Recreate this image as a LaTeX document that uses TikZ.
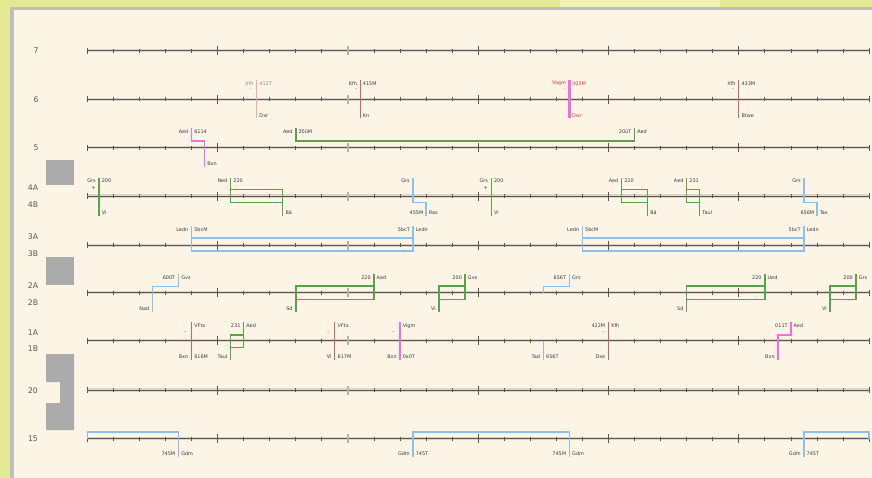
\documentclass[tikz,border=0pt]{standalone}
\usepackage{fontspec}
\setmainfont{DejaVu Sans}
\definecolor{outer}{HTML}{E3EA92}
\definecolor{outerl}{HTML}{EEF2B4}
\definecolor{framec}{HTML}{BEBEBE}
\definecolor{paper}{HTML}{FCF5E6}
\definecolor{axc}{HTML}{5A5550}
\definecolor{haloc}{HTML}{DCD5CA}
\definecolor{grn}{HTML}{5AA34E}
\definecolor{blu}{HTML}{8CC0EC}
\definecolor{redl}{HTML}{CF6464}
\definecolor{pinkl}{HTML}{EDAAB2}
\definecolor{mag}{HTML}{F56CE0}
\definecolor{txt}{HTML}{3A3A3A}
\definecolor{txtl}{HTML}{8A8A8A}
\definecolor{txtr}{HTML}{F03A3A}
\definecolor{boxg}{HTML}{ABABAB}
\newcommand\PX[1]{87.3+26.06*#1}
\newcommand\axisrow[1]{%
  \draw[haloline] (87.3,#1) -- (869,#1);
  \draw[axline] (87.3,#1) -- (869,#1);
  \foreach \i in {1,2,3,4,6,7,8,9,11,12,13,14,16,17,18,19,21,22,23,24,26,27,28,29}
    \draw[tickm] ({\PX{\i}},#1-2) -- ++(0,4);
  \foreach \i in {5,15,20,25}
    \draw[tickM] ({\PX{\i}},#1-4.5) -- ++(0,9);
  \draw[tickL] ({\PX{10}},#1-4.5) -- ++(0,9);
  \foreach \i in {0,30}
    \draw[tickm] ({\PX{\i}},#1-3) -- ++(0,6);
}
\begin{document}
\begin{tikzpicture}[x=0.75pt,y=-0.75pt,
  lab/.style={font=\fontsize{3.7}{4}\selectfont, text=txt, inner sep=0pt},
  labl/.style={lab, text=txtl},
  labr/.style={lab, text=txtr},
  rowlab/.style={font=\fontsize{5.8}{6}\selectfont, text=txt!85, inner sep=0pt},
  haloline/.style={draw=haloc, line width=2.4pt},
  axline/.style={draw=axc, line width=0.75pt},
  tickm/.style={draw=axc, line width=0.6pt},
  tickM/.style={draw=axc, line width=0.8pt},
  tickL/.style={draw=axc!45, line width=0.9pt},
  gl/.style={draw=grn, line width=1.1pt},
  bl/.style={draw=blu, line width=1.2pt},
  rl/.style={draw=redl, line width=0.9pt},
  pl/.style={draw=pinkl, line width=0.9pt},
  ml/.style={draw=mag, line width=1.1pt},
  mthick/.style={draw=mag, line width=1.9pt}]
\useasboundingbox (0,0) rectangle (872,478);
% background
\fill[outer] (0,0) rectangle (872,478);
\fill[outerl] (560,0) rectangle (720,7);
\fill[framec] (10,6.8) rectangle (872,478);
\fill[paper] (14,10.3) rectangle (872,478);
% gray boxes
\fill[boxg] (46,160) rectangle (74,185);
\fill[boxg] (46,257) rectangle (74,285);
\fill[boxg] (46,354) -- (74,354) -- (74,430) -- (46,430) -- (46,403) -- (60,403) -- (60,382) -- (46,382) -- cycle;
% row labels
\node[rowlab] (l7) at (36,50.7) {7};
\node[rowlab] (l6) at (36,99.3) {6};
\node[rowlab] (l5) at (36,147.7) {5};
\node[rowlab] (l4a) at (33,188) {4A};
\node[rowlab] (l4b) at (33,205) {4B};
\node[rowlab] (l3a) at (33,237) {3A};
\node[rowlab] (l3b) at (33,254) {3B};
\node[rowlab] (l2a) at (33,286) {2A};
\node[rowlab] (l2b) at (33,303) {2B};
\node[rowlab] (l1a) at (33,333) {1A};
\node[rowlab] (l1b) at (33,349) {1B};
\node[rowlab] (l20) at (33,391) {20};
\node[rowlab] (l15) at (33,439) {15};
% axes
\axisrow{50.7}
\axisrow{99.3}
\axisrow{147.7}
\axisrow{196}
\axisrow{245.3}
\axisrow{292.7}
\axisrow{340.7}
\axisrow{390}
\axisrow{438.7}
% ---------- row 6
\draw[pl] ({\PX{6.5}},80.3) -- ({\PX{6.5}},118.3);
\node[labl,anchor=east] (r6a1) at ({\PX{6.5}-3},83.5) {Xfh};
\node[labl] (r6a2) at ({\PX{6.5}-6},89.5) {-};
\node[labl,anchor=west] (r6a3) at ({\PX{6.5}+2.5},83.5) {412T};
\node[lab,anchor=west] (r6a4) at ({\PX{6.5}+2.5},116) {Dxr};
\draw[rl] ({\PX{10.47}},80.3) -- ({\PX{10.47}},118.3);
\node[lab,anchor=east] (r6b1) at ({\PX{10.47}-3},83.5) {Kfh};
\node[lab] (r6b2) at ({\PX{10.47}-4.5},89.5) {-};
\node[lab,anchor=west] (r6b3) at ({\PX{10.47}+2.5},83.5) {415M};
\node[lab,anchor=west] (r6b4) at ({\PX{10.47}+2.5},116) {Kn};
\draw[mthick] ({\PX{18.5}},80.3) -- ({\PX{18.5}},118.3);
\node[labr,anchor=east] (r6c1) at ({\PX{18.5}-3},83.5) {Vagm};
\node[labr] (r6c2) at ({\PX{18.5}-4.5},89.5) {-};
\node[labr,anchor=west] (r6c3) at ({\PX{18.5}+2.5},83.5) {303M};
\node[labr,anchor=west] (r6c4) at ({\PX{18.5}+2.5},116) {Dwr};
\draw[rl] ({\PX{25}},80.3) -- ({\PX{25}},118.3);
\node[lab,anchor=east] (r6d1) at ({\PX{25}-3},83.5) {Xfh};
\node[lab] (r6d2) at ({\PX{25}-6},90) {-};
\node[lab,anchor=west] (r6d3) at ({\PX{25}+2.5},83.5) {433M};
\node[lab,anchor=west] (r6d4) at ({\PX{25}+2.5},116) {Btwe};
% ---------- row 5
\draw[ml] ({\PX{4}},128.3) -- ({\PX{4}},141) -- ({\PX{4.5}},141) -- ({\PX{4.5}},166.7);
\node[lab,anchor=east] (r5a1) at ({\PX{4}-3},131.5) {Aed};
\node[lab,anchor=west] (r5a2) at ({\PX{4}+2.5},131.5) {6114};
\node[lab,anchor=west] (r5a3) at ({\PX{4.5}+2.5},164) {Bxn};
\draw[gl] ({\PX{8}},128.3) -- ({\PX{8}},141) -- ({\PX{21}},141) -- ({\PX{21}},128.3);
\node[lab,anchor=east] (r5b1) at ({\PX{8}-3},131.5) {Aed};
\node[lab,anchor=west] (r5b2) at ({\PX{8}+2.5},131.5) {20üM};
\node[lab,anchor=east] (r5b3) at ({\PX{21}-3},131.5) {20üT};
\node[lab,anchor=west] (r5b4) at ({\PX{21}+2.5},131.5) {Aed};
% ---------- row 4
\draw[gl] ({\PX{0.45}},177.5) -- ({\PX{0.45}},216);
\node[lab,anchor=east] (r4a1) at ({\PX{0.45}-3},181) {Grs};
\node[lab] (r4a2) at ({\PX{0.45}-5.5},188) {+};
\node[lab,anchor=west] (r4a3) at ({\PX{0.45}+2.5},181) {200};
\node[lab,anchor=west] (r4a4) at ({\PX{0.45}+2.5},212.5) {Vi};
\draw[gl] ({\PX{5.5}},177.5) -- ({\PX{5.5}},189.7) ({\PX{5.5}},189.7) rectangle ({\PX{7.5}},202.5) ({\PX{7.5}},202.5) -- ({\PX{7.5}},216);
\node[lab,anchor=east] (r4b1) at ({\PX{5.5}-3},181) {Ned};
\node[lab,anchor=west] (r4b2) at ({\PX{5.5}+2.5},181) {220};
\node[lab,anchor=west] (r4b3) at ({\PX{7.5}+2.5},212.5) {Bä};
\draw[bl] ({\PX{12.5}},177.5) -- ({\PX{12.5}},202.5) -- ({\PX{13}},202.5) -- ({\PX{13}},216);
\node[lab,anchor=east] (r4c1) at ({\PX{12.5}-3},181) {Grs};
\node[lab,anchor=east] (r4c2) at ({\PX{13}-2.5},212.5) {455M};
\node[lab,anchor=west] (r4c3) at ({\PX{13}+2.5},212.5) {Ras};
\draw[gl] ({\PX{15.5}},177.5) -- ({\PX{15.5}},216);
\node[lab,anchor=east] (r4d1) at ({\PX{15.5}-3},181) {Grs};
\node[lab] (r4d2) at ({\PX{15.5}-5.5},188) {+};
\node[lab,anchor=west] (r4d3) at ({\PX{15.5}+2.5},181) {200};
\node[lab,anchor=west] (r4d4) at ({\PX{15.5}+2.5},212.5) {Vi};
\draw[gl] ({\PX{20.5}},177.5) -- ({\PX{20.5}},189.7) ({\PX{20.5}},189.7) rectangle ({\PX{21.5}},202.5) ({\PX{21.5}},202.5) -- ({\PX{21.5}},216);
\node[lab,anchor=east] (r4e1) at ({\PX{20.5}-3},181) {Aed};
\node[lab,anchor=west] (r4e2) at ({\PX{20.5}+2.5},181) {220};
\node[lab,anchor=west] (r4e3) at ({\PX{21.5}+2.5},212.5) {Bä};
\draw[gl] ({\PX{23}},177.5) -- ({\PX{23}},189.7) ({\PX{23}},189.7) rectangle ({\PX{23.5}},202.5) ({\PX{23.5}},202.5) -- ({\PX{23.5}},216);
\node[lab,anchor=east] (r4f1) at ({\PX{23}-3},181) {Aed};
\node[lab,anchor=west] (r4f2) at ({\PX{23}+2.5},181) {231};
\node[lab,anchor=west] (r4f3) at ({\PX{23.5}+2.5},212.5) {Taul};
\draw[bl] ({\PX{27.5}},177.5) -- ({\PX{27.5}},202.5) -- ({\PX{28}},202.5) -- ({\PX{28}},216);
\node[lab,anchor=east] (r4g1) at ({\PX{27.5}-3},181) {Grs};
\node[lab,anchor=east] (r4g2) at ({\PX{28}-2.5},212.5) {656M};
\node[lab,anchor=west] (r4g3) at ({\PX{28}+2.5},212.5) {Tax};
% ---------- row 3
\draw[bl] ({\PX{4}},226) -- ({\PX{4}},250.7) -- ({\PX{12.5}},250.7) -- ({\PX{12.5}},226) ({\PX{4}},238) -- ({\PX{12.5}},238);
\node[lab,anchor=east] (r3a1) at ({\PX{4}-3},229.5) {Ledn};
\node[lab,anchor=west] (r3a2) at ({\PX{4}+2.5},229.5) {5bcM};
\node[lab,anchor=east] (r3a3) at ({\PX{12.5}-3},229.5) {5bcT};
\node[lab,anchor=west] (r3a4) at ({\PX{12.5}+2.5},229.5) {Ledn};
\draw[bl] ({\PX{19}},226) -- ({\PX{19}},250.7) -- ({\PX{27.5}},250.7) -- ({\PX{27.5}},226) ({\PX{19}},238) -- ({\PX{27.5}},238);
\node[lab,anchor=east] (r3b1) at ({\PX{19}-3},229.5) {Ledn};
\node[lab,anchor=west] (r3b2) at ({\PX{19}+2.5},229.5) {5bcM};
\node[lab,anchor=east] (r3b3) at ({\PX{27.5}-3},229.5) {5bcT};
\node[lab,anchor=west] (r3b4) at ({\PX{27.5}+2.5},229.5) {Ledn};
% ---------- row 2
\draw[bl] ({\PX{2.5}},311.7) -- ({\PX{2.5}},286.5) -- ({\PX{3.5}},286.5) -- ({\PX{3.5}},274);
\node[lab,anchor=east] (r2a1) at ({\PX{2.5}-3},309) {Nad};
\node[lab,anchor=east] (r2a2) at ({\PX{3.5}-3},277.5) {600T};
\node[lab,anchor=west] (r2a3) at ({\PX{3.5}+2.5},277.5) {Gvs};
\draw[gl] ({\PX{8}},311.7) -- ({\PX{8}},299.5) ({\PX{8}},286.2) rectangle ({\PX{11}},299.5) ({\PX{11}},286.2) -- ({\PX{11}},274);
\node[lab,anchor=east] (r2b1) at ({\PX{8}-3},309) {Sd};
\node[lab,anchor=east] (r2b2) at ({\PX{11}-3},277.5) {220};
\node[lab,anchor=west] (r2b3) at ({\PX{11}+2.5},277.5) {Aed};
\draw[gl] ({\PX{13.5}},311.7) -- ({\PX{13.5}},299.5) ({\PX{13.5}},286.2) rectangle ({\PX{14.5}},299.5) ({\PX{14.5}},286.2) -- ({\PX{14.5}},274);
\node[lab,anchor=east] (r2c1) at ({\PX{13.5}-3},309) {Vi};
\node[lab,anchor=east] (r2c2) at ({\PX{14.5}-3},277.5) {200};
\node[lab,anchor=west] (r2c3) at ({\PX{14.5}+2.5},277.5) {Gvs};
\draw[bl] ({\PX{17.5}},292.7) -- ({\PX{17.5}},286.5) -- ({\PX{18.5}},286.5) -- ({\PX{18.5}},274);
\node[lab,anchor=east] (r2d1) at ({\PX{18.5}-3},277.5) {656T};
\node[lab,anchor=west] (r2d2) at ({\PX{18.5}+2.5},277.5) {Grs};
\draw[gl] ({\PX{23}},311.7) -- ({\PX{23}},299.5) ({\PX{23}},286.2) rectangle ({\PX{26}},299.5) ({\PX{26}},286.2) -- ({\PX{26}},274);
\node[lab,anchor=east] (r2e1) at ({\PX{23}-3},309) {Sd};
\node[lab,anchor=east] (r2e2) at ({\PX{26}-3},277.5) {220};
\node[lab,anchor=west] (r2e3) at ({\PX{26}+2.5},277.5) {Ued};
\draw[gl] ({\PX{28.5}},311.7) -- ({\PX{28.5}},299.5) ({\PX{28.5}},286.2) rectangle ({\PX{29.5}},299.5) ({\PX{29.5}},286.2) -- ({\PX{29.5}},274);
\node[lab,anchor=east] (r2f1) at ({\PX{28.5}-3},309) {Vi};
\node[lab,anchor=east] (r2f2) at ({\PX{29.5}-3},277.5) {200};
\node[lab,anchor=west] (r2f3) at ({\PX{29.5}+2.5},277.5) {Grs};
% ---------- row 1
\draw[rl] ({\PX{4}},322) -- ({\PX{4}},360);
\node[lab] (r1a1) at ({\PX{4}-6.5},333) {-};
\node[lab,anchor=west] (r1a2) at ({\PX{4}+2.5},326) {VFtx};
\node[lab,anchor=east] (r1a3) at ({\PX{4}-3},357) {Bxn};
\node[lab,anchor=west] (r1a4) at ({\PX{4}+2.5},357) {616M};
\draw[gl] ({\PX{5.5}},360) -- ({\PX{5.5}},347.3) ({\PX{5.5}},335) rectangle ({\PX{6}},347.3) ({\PX{6}},335) -- ({\PX{6}},322);
\node[lab,anchor=east] (r1b1) at ({\PX{6}-3},326) {231};
\node[lab,anchor=west] (r1b2) at ({\PX{6}+2.5},326) {Aed};
\node[lab,anchor=east] (r1b3) at ({\PX{5.5}-3},357) {Taul};
\draw[rl] ({\PX{9.5}},322) -- ({\PX{9.5}},360);
\node[lab] (r1c1) at ({\PX{9.5}-6.5},333) {-};
\node[lab,anchor=west] (r1c2) at ({\PX{9.5}+2.5},326) {VFtx};
\node[lab,anchor=east] (r1c3) at ({\PX{9.5}-3},357) {Vi};
\node[lab,anchor=west] (r1c4) at ({\PX{9.5}+2.5},357) {617M};
\draw[ml] ({\PX{12}},322) -- ({\PX{12}},360);
\node[lab] (r1d1) at ({\PX{12}-6.5},333) {-};
\node[lab,anchor=west] (r1d2) at ({\PX{12}+2.5},326) {Vigm};
\node[lab,anchor=east] (r1d3) at ({\PX{12}-3},357) {Bxn};
\node[lab,anchor=west] (r1d4) at ({\PX{12}+2.5},357) {0x0T};
\draw[bl] ({\PX{17.5}},340.7) -- ({\PX{17.5}},360);
\node[lab,anchor=east] (r1e1) at ({\PX{17.5}-3},357) {Tad};
\node[lab,anchor=west] (r1e2) at ({\PX{17.5}+2.5},357) {656T};
\draw[rl] ({\PX{20}},322) -- ({\PX{20}},360);
\node[lab,anchor=east] (r1f1) at ({\PX{20}-3},326) {422M};
\node[lab] (r1f2) at ({\PX{20}-5},333) {-};
\node[lab,anchor=west] (r1f3) at ({\PX{20}+2.5},326) {Kfh};
\node[lab,anchor=east] (r1f4) at ({\PX{20}-3},357) {Dxe};
\draw[ml] ({\PX{26.5}},360) -- ({\PX{26.5}},335) -- ({\PX{27}},335) -- ({\PX{27}},322);
\node[lab,anchor=east] (r1g1) at ({\PX{26.5}-3},357) {Bxn};
\node[lab,anchor=east] (r1g2) at ({\PX{27}-3},326) {011T};
\node[lab,anchor=west] (r1g3) at ({\PX{27}+2.5},326) {Aed};
% ---------- row 15
\draw[bl] ({\PX{0}},438.7) -- ({\PX{0}},431.7) -- ({\PX{3.5}},431.7) -- ({\PX{3.5}},457);
\node[lab,anchor=east] (r15a1) at ({\PX{3.5}-3},454) {745M};
\node[lab,anchor=west] (r15a2) at ({\PX{3.5}+2.5},454) {Gdm};
\draw[bl] ({\PX{12.5}},457) -- ({\PX{12.5}},431.7) -- ({\PX{18.5}},431.7) -- ({\PX{18.5}},457);
\node[lab,anchor=east] (r15b1) at ({\PX{12.5}-3},454) {Gdm};
\node[lab,anchor=west] (r15b2) at ({\PX{12.5}+2.5},454) {745T};
\node[lab,anchor=east] (r15b3) at ({\PX{18.5}-3},454) {745M};
\node[lab,anchor=west] (r15b4) at ({\PX{18.5}+2.5},454) {Gdm};
\draw[bl] ({\PX{27.5}},457) -- ({\PX{27.5}},431.7) -- ({\PX{30}},431.7) -- ({\PX{30}},438.7);
\node[lab,anchor=east] (r15c1) at ({\PX{27.5}-3},454) {Gdm};
\node[lab,anchor=west] (r15c2) at ({\PX{27.5}+2.5},454) {745T};
\end{tikzpicture}
\end{document}
